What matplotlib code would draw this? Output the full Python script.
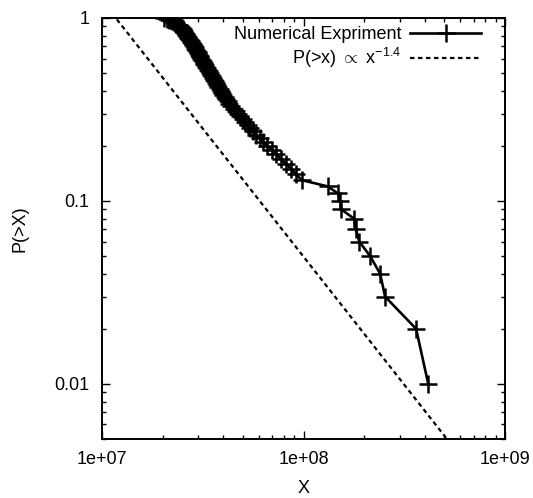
import matplotlib
matplotlib.use("Agg")
import matplotlib.pyplot as plt
import numpy as np

# ── DATA ──────────────────────────────────────────────────────────────────────
# cumulative distribution, one point per rank
x_values = [
    2.03e7, 2.09e7, 2.14e7, 2.19e7, 2.23e7, 2.27e7, 2.30e7, 2.34e7, 2.37e7, 2.40e7,
    2.44e7, 2.47e7, 2.49e7, 2.51e7, 2.53e7, 2.54e7, 2.56e7, 2.58e7, 2.60e7, 2.62e7,
    2.64e7, 2.66e7, 2.68e7, 2.71e7, 2.73e7, 2.75e7, 2.77e7, 2.80e7, 2.82e7, 2.84e7,
    2.86e7, 2.88e7, 2.91e7, 2.93e7, 2.95e7, 2.98e7, 3.00e7, 3.03e7, 3.05e7, 3.08e7,
    3.11e7, 3.14e7, 3.16e7, 3.19e7, 3.22e7, 3.25e7, 3.29e7, 3.32e7, 3.35e7, 3.39e7,
    3.42e7, 3.46e7, 3.50e7, 3.54e7, 3.58e7, 3.63e7, 3.67e7, 3.72e7, 3.77e7, 3.83e7,
    3.88e7, 3.94e7, 4.00e7, 4.06e7, 4.13e7, 4.20e7, 4.27e7, 4.37e7, 4.50e7, 4.62e7,
    4.73e7, 4.86e7, 4.99e7, 5.13e7, 5.28e7, 5.44e7, 5.63e7, 5.83e7, 6.05e7, 6.30e7,
    6.61e7, 6.95e7, 7.33e7, 7.71e7, 8.16e7, 8.64e7, 9.18e7, 9.80e7, 1.32e8, 1.48e8,
    1.52e8, 1.54e8, 1.78e8, 1.82e8, 1.89e8, 2.14e8, 2.40e8, 2.54e8, 3.62e8, 4.16e8,
]
p_values = [
    1.00, 0.99, 0.98, 0.97, 0.96, 0.95, 0.94, 0.93, 0.92, 0.91,
    0.90, 0.89, 0.88, 0.87, 0.86, 0.85, 0.84, 0.83, 0.82, 0.81,
    0.80, 0.79, 0.78, 0.77, 0.76, 0.75, 0.74, 0.73, 0.72, 0.71,
    0.70, 0.69, 0.68, 0.67, 0.66, 0.65, 0.64, 0.63, 0.62, 0.61,
    0.60, 0.59, 0.58, 0.57, 0.56, 0.55, 0.54, 0.53, 0.52, 0.51,
    0.50, 0.49, 0.48, 0.47, 0.46, 0.45, 0.44, 0.43, 0.42, 0.41,
    0.40, 0.39, 0.38, 0.37, 0.36, 0.35, 0.34, 0.33, 0.32, 0.31,
    0.30, 0.29, 0.28, 0.27, 0.26, 0.25, 0.24, 0.23, 0.22, 0.21,
    0.20, 0.19, 0.18, 0.17, 0.16, 0.15, 0.14, 0.13, 0.12, 0.11,
    0.10, 0.09, 0.08, 0.07, 0.06, 0.05, 0.04, 0.03, 0.02, 0.01,
]

# power law guide line P ~ x^-1.4, equal to 1 at x0
slope = -1.4
x0 = 1.17e7
x_line = [1e7, 1e9]

x_ticks = [1e7, 1e8, 1e9]
x_tick_labels = ["1e+07", "1e+08", "1e+09"]
y_ticks = [0.01, 0.1, 1]
y_tick_labels = ["0.01", "0.1", "1"]

# ── STYLE ─────────────────────────────────────────────────────────────────────
plt.rcParams["font.family"] = ["Liberation Sans", "DejaVu Sans"]
plt.rcParams["mathtext.fontset"] = "custom"
plt.rcParams["mathtext.rm"] = "Liberation Sans"
plt.rcParams["mathtext.it"] = "Liberation Sans"
FS = 13

fig = plt.figure(figsize=(5.33, 4.98), dpi=100)
ax = fig.add_axes([0.1914, 0.1185, 0.7561, 0.8454])

ax.plot(x_values, p_values, color="black", lw=1.9, marker="+",
        markersize=13, markeredgewidth=1.8, label="Numerical Expriment")

line_y = [(v / x0) ** slope for v in x_line]
ax.plot(x_line, line_y, color="black", lw=1.6, linestyle=(0, (2, 1.6)),
        label=r"P(>x) $\propto$ x$^{\mathregular{-1.4}}$")

ax.set_xscale("log")
ax.set_yscale("log")
ax.set_xlim(1e7, 1e9)
ax.set_ylim(0.005, 1)

ax.set_xticks(x_ticks)
ax.set_xticklabels(x_tick_labels)
ax.set_yticks(y_ticks)
ax.set_yticklabels(y_tick_labels)

ax.tick_params(which="both", direction="in", top=True, right=True,
               labelsize=FS, width=1.0)
ax.tick_params(which="major", length=6, pad=9)
ax.tick_params(which="minor", length=3)
for s in ax.spines.values():
    s.set_linewidth(1.4)

ax.set_xlabel("X", fontsize=FS, labelpad=8)
ax.set_ylabel("P(>X)", fontsize=FS, labelpad=19)

leg = ax.legend(loc="upper right", bbox_to_anchor=(0.94, 0.98),
                frameon=False, markerfirst=False, fontsize=FS,
                handlelength=3.9, handletextpad=0.5, borderpad=0,
                borderaxespad=0, labelspacing=0.15)

fig.savefig("out.png", dpi=100)
